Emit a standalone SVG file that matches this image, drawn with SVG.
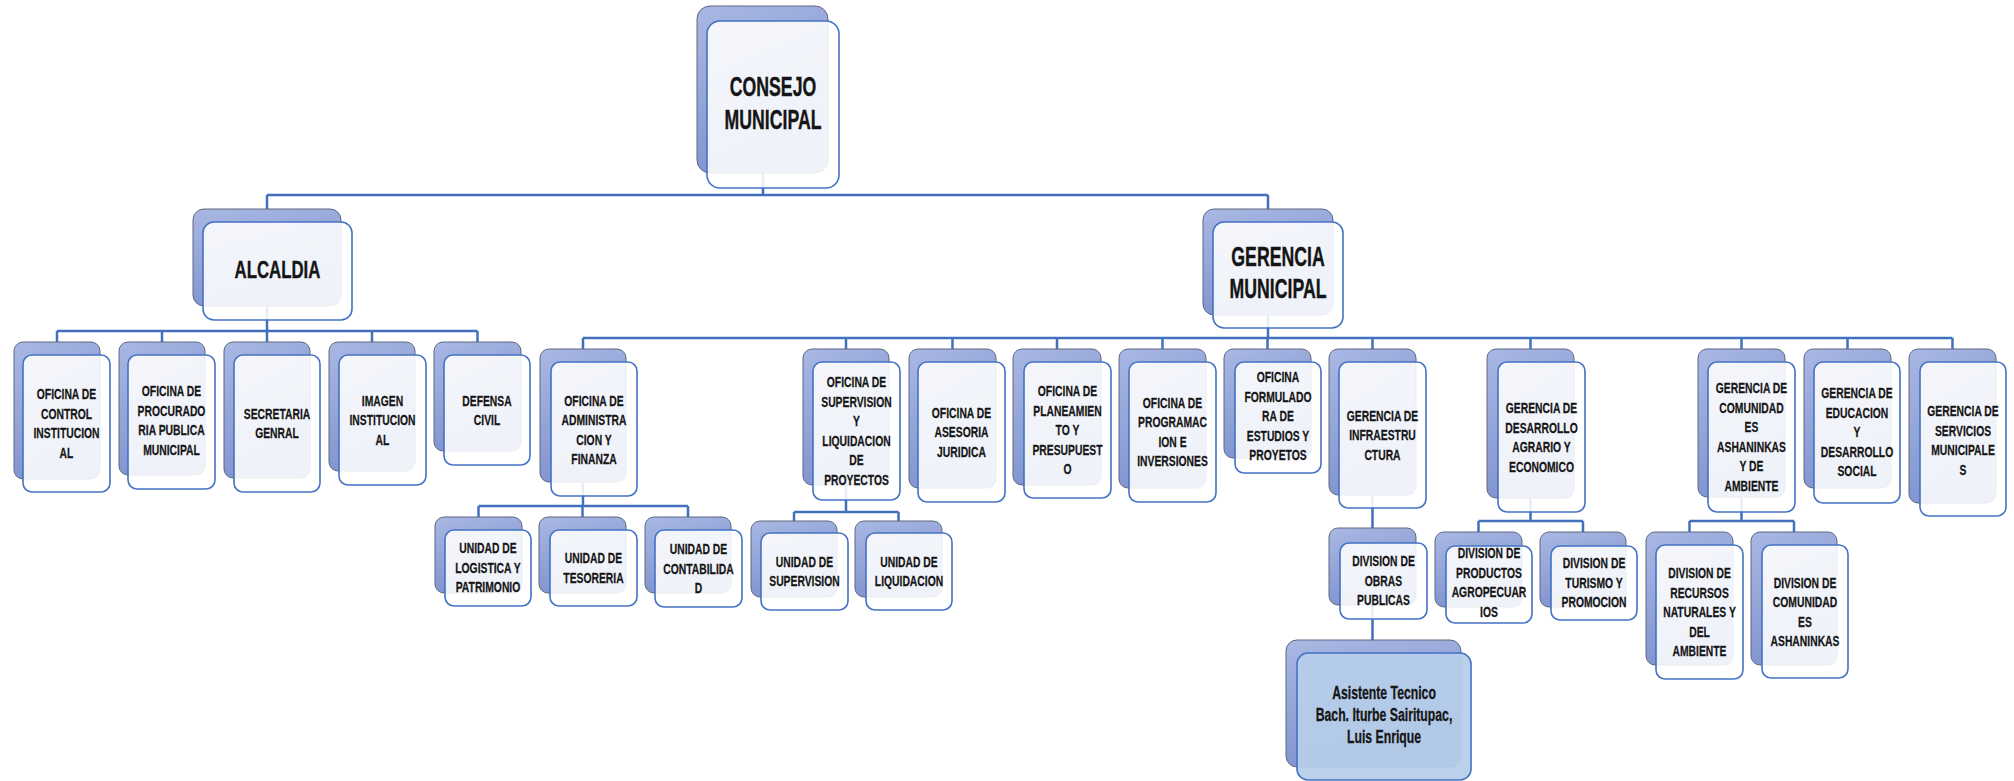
<svg xmlns="http://www.w3.org/2000/svg" width="2014" height="781" viewBox="0 0 2014 781">
<defs>
<linearGradient id="gb" x1="0" y1="0" x2="0.35" y2="1">
<stop offset="0" stop-color="#A9B8E3"/>
<stop offset="1" stop-color="#7F92CD"/>
</linearGradient>
<style>
.b{fill:url(#gb);stroke:#5E6780;stroke-width:1}
.f{fill:#FFFFFF;fill-opacity:0.88;stroke:#4472C4;stroke-width:1.6}
.fa{fill:#B6CEEA;fill-opacity:0.93;stroke:#4472C4;stroke-width:1.6}
.t{font-family:"Liberation Sans",Arial,sans-serif;font-weight:bold;font-size:15px;fill:#151515;stroke:#151515;stroke-width:0.25;text-anchor:middle}
.tl{font-size:27px;stroke-width:0.4}
.tm{font-size:24px;stroke-width:0.4}
.ts{font-size:18px;stroke-width:0.3}
.c{fill:none;stroke:#4270BD;stroke-width:2.5}
</style>
</defs>
<rect width="2014" height="781" fill="#FFFFFF"/>
<g id="connectors">
<path class="c" d="M763,170V195M267,195H1268M267,195V212M1268,195V212"/>
<path class="c" d="M267,300V331M57,331H477.5M57,331V345M162,331V345M267,331V345M372,331V345M477.5,331V345"/>
<path class="c" d="M1268,310V338M583,338H1952.5M583,338V352M846,338V352M952.5,338V352M1057,338V352M1162.5,338V352M1267.5,338V352M1372.5,338V352M1530.5,338V352M1741.5,338V352M1847.5,338V352M1952.5,338V352"/>
<path class="c" d="M583,478V506M478.5,506H688M478.5,506V520M582.5,506V520M688,506V520"/>
<path class="c" d="M846,480V512M794,512H898.5M794,512V524M898.5,512V524"/>
<path class="c" d="M1372.5,490V531M1372.5,600V643"/>
<path class="c" d="M1530.5,493V521M1478.5,521H1583M1478.5,521V535M1583,521V535"/>
<path class="c" d="M1741.5,492V521M1689.5,521H1794M1689.5,521V535M1794,521V535"/>
</g>
<g id="consejo">
<rect class="b" x="697" y="6" width="131" height="167" rx="13"/>
<rect class="f" x="707" y="21" width="132" height="167" rx="13"/>
<text class="t tl" transform="translate(773,0) scale(0.655,1)"><tspan x="0" y="96">CONSEJO</tspan><tspan x="0" y="129">MUNICIPAL</tspan></text>
</g>
<g id="alcaldia">
<rect class="b" x="193" y="209" width="148" height="97" rx="11"/>
<rect class="f" x="203" y="222" width="149" height="98" rx="11"/>
<text class="t tm" transform="translate(277.5,0) scale(0.70,1)"><tspan x="0" y="278">ALCALDIA</tspan></text>
</g>
<g id="gerencia-municipal">
<rect class="b" x="1203" y="209" width="130" height="106" rx="11"/>
<rect class="f" x="1213" y="222" width="130" height="106" rx="11"/>
<text class="t tl" transform="translate(1278,0) scale(0.655,1)"><tspan x="0" y="266">GERENCIA</tspan><tspan x="0" y="298">MUNICIPAL</tspan></text>
</g>
<g id="control-institucional">
<rect class="b" x="14" y="342" width="86" height="137" rx="9"/>
<rect class="f" x="23" y="355" width="87" height="137" rx="9"/>
<text class="t" transform="translate(66.5,0) scale(0.69,1)"><tspan x="0" y="399.5">OFICINA DE</tspan><tspan x="0" y="419">CONTROL</tspan><tspan x="0" y="438.5">INSTITUCION</tspan><tspan x="0" y="458">AL</tspan></text>
</g>
<g id="procuraduria">
<rect class="b" x="119" y="342" width="86" height="133" rx="9"/>
<rect class="f" x="128" y="355" width="87" height="134" rx="9"/>
<text class="t" transform="translate(171.5,0) scale(0.69,1)"><tspan x="0" y="396.5">OFICINA DE</tspan><tspan x="0" y="416">PROCURADO</tspan><tspan x="0" y="435.5">RIA PUBLICA</tspan><tspan x="0" y="455">MUNICIPAL</tspan></text>
</g>
<g id="secretaria">
<rect class="b" x="224" y="342" width="86" height="136" rx="9"/>
<rect class="f" x="234" y="355" width="86" height="137" rx="9"/>
<text class="t" transform="translate(277,0) scale(0.69,1)"><tspan x="0" y="419">SECRETARIA</tspan><tspan x="0" y="438.5">GENRAL</tspan></text>
</g>
<g id="imagen">
<rect class="b" x="329" y="342" width="86" height="129" rx="9"/>
<rect class="f" x="339" y="355" width="87" height="130" rx="9"/>
<text class="t" transform="translate(382.5,0) scale(0.69,1)"><tspan x="0" y="406">IMAGEN</tspan><tspan x="0" y="425.5">INSTITUCION</tspan><tspan x="0" y="445">AL</tspan></text>
</g>
<g id="defensa">
<rect class="b" x="434" y="342" width="87" height="109" rx="9"/>
<rect class="f" x="444" y="355" width="86" height="110" rx="9"/>
<text class="t" transform="translate(487,0) scale(0.69,1)"><tspan x="0" y="406">DEFENSA</tspan><tspan x="0" y="425.5">CIVIL</tspan></text>
</g>
<g id="administracion">
<rect class="b" x="540" y="349" width="86" height="133" rx="9"/>
<rect class="f" x="551" y="362" width="86" height="134" rx="9"/>
<text class="t" transform="translate(594,0) scale(0.69,1)"><tspan x="0" y="406">OFICINA DE</tspan><tspan x="0" y="425.5">ADMINISTRA</tspan><tspan x="0" y="445">CION Y</tspan><tspan x="0" y="464.5">FINANZA</tspan></text>
</g>
<g id="supervision-liquidacion">
<rect class="b" x="803" y="349" width="86" height="136" rx="9"/>
<rect class="f" x="813" y="362" width="87" height="138" rx="9"/>
<text class="t" transform="translate(856.5,0) scale(0.69,1)"><tspan x="0" y="387.5">OFICINA DE</tspan><tspan x="0" y="407">SUPERVISION</tspan><tspan x="0" y="426.5">Y</tspan><tspan x="0" y="446">LIQUIDACION</tspan><tspan x="0" y="465.5">DE</tspan><tspan x="0" y="485">PROYECTOS</tspan></text>
</g>
<g id="asesoria">
<rect class="b" x="909" y="349" width="87" height="139" rx="9"/>
<rect class="f" x="918" y="362" width="87" height="140" rx="9"/>
<text class="t" transform="translate(961.5,0) scale(0.69,1)"><tspan x="0" y="418">OFICINA DE</tspan><tspan x="0" y="437.5">ASESORIA</tspan><tspan x="0" y="457">JURIDICA</tspan></text>
</g>
<g id="planeamiento">
<rect class="b" x="1013" y="349" width="88" height="136" rx="9"/>
<rect class="f" x="1024" y="362" width="87" height="136" rx="9"/>
<text class="t" transform="translate(1067.5,0) scale(0.69,1)"><tspan x="0" y="396.5">OFICINA DE</tspan><tspan x="0" y="416">PLANEAMIEN</tspan><tspan x="0" y="435.5">TO Y</tspan><tspan x="0" y="455">PRESUPUEST</tspan><tspan x="0" y="474.5">O</tspan></text>
</g>
<g id="programacion">
<rect class="b" x="1119" y="349" width="87" height="139" rx="9"/>
<rect class="f" x="1129" y="362" width="87" height="140" rx="9"/>
<text class="t" transform="translate(1172.5,0) scale(0.69,1)"><tspan x="0" y="408">OFICINA DE</tspan><tspan x="0" y="427.5">PROGRAMAC</tspan><tspan x="0" y="447">ION E</tspan><tspan x="0" y="466.5">INVERSIONES</tspan></text>
</g>
<g id="formuladora">
<rect class="b" x="1224" y="349" width="87" height="109" rx="9"/>
<rect class="f" x="1235" y="362" width="86" height="111" rx="9"/>
<text class="t" transform="translate(1278,0) scale(0.69,1)"><tspan x="0" y="382.5">OFICINA</tspan><tspan x="0" y="402">FORMULADO</tspan><tspan x="0" y="421.5">RA DE</tspan><tspan x="0" y="441">ESTUDIOS Y</tspan><tspan x="0" y="460.5">PROYETOS</tspan></text>
</g>
<g id="infraestructura">
<rect class="b" x="1329" y="349" width="87" height="146" rx="9"/>
<rect class="f" x="1339" y="362" width="87" height="146" rx="9"/>
<text class="t" transform="translate(1382.5,0) scale(0.69,1)"><tspan x="0" y="421">GERENCIA DE</tspan><tspan x="0" y="440.5">INFRAESTRU</tspan><tspan x="0" y="460">CTURA</tspan></text>
</g>
<g id="desarrollo-agrario">
<rect class="b" x="1487" y="349" width="87" height="149" rx="9"/>
<rect class="f" x="1498" y="362" width="87" height="150" rx="9"/>
<text class="t" transform="translate(1541.5,0) scale(0.69,1)"><tspan x="0" y="413.5">GERENCIA DE</tspan><tspan x="0" y="433">DESARROLLO</tspan><tspan x="0" y="452.5">AGRARIO Y</tspan><tspan x="0" y="472">ECONOMICO</tspan></text>
</g>
<g id="comunidades-ambiente">
<rect class="b" x="1698" y="349" width="87" height="148" rx="9"/>
<rect class="f" x="1708" y="362" width="87" height="150" rx="9"/>
<text class="t" transform="translate(1751.5,0) scale(0.69,1)"><tspan x="0" y="393.5">GERENCIA DE</tspan><tspan x="0" y="413">COMUNIDAD</tspan><tspan x="0" y="432.5">ES</tspan><tspan x="0" y="452">ASHANINKAS</tspan><tspan x="0" y="471.5">Y DE</tspan><tspan x="0" y="491">AMBIENTE</tspan></text>
</g>
<g id="educacion">
<rect class="b" x="1804" y="349" width="87" height="139" rx="9"/>
<rect class="f" x="1814" y="362" width="86" height="141" rx="9"/>
<text class="t" transform="translate(1857,0) scale(0.69,1)"><tspan x="0" y="398.5">GERENCIA DE</tspan><tspan x="0" y="418">EDUCACION</tspan><tspan x="0" y="437.5">Y</tspan><tspan x="0" y="457">DESARROLLO</tspan><tspan x="0" y="476.5">SOCIAL</tspan></text>
</g>
<g id="servicios">
<rect class="b" x="1909" y="349" width="87" height="154" rx="9"/>
<rect class="f" x="1920" y="362" width="86" height="154" rx="9"/>
<text class="t" transform="translate(1963,0) scale(0.69,1)"><tspan x="0" y="416.5">GERENCIA DE</tspan><tspan x="0" y="436">SERVICIOS</tspan><tspan x="0" y="455.5">MUNICIPALE</tspan><tspan x="0" y="475">S</tspan></text>
</g>
<g id="logistica">
<rect class="b" x="435" y="517" width="87" height="76" rx="9"/>
<rect class="f" x="445" y="530" width="86" height="76" rx="9"/>
<text class="t" transform="translate(488,0) scale(0.69,1)"><tspan x="0" y="553.5">UNIDAD DE</tspan><tspan x="0" y="573">LOGISTICA Y</tspan><tspan x="0" y="592.5">PATRIMONIO</tspan></text>
</g>
<g id="tesoreria">
<rect class="b" x="539" y="517" width="87" height="76" rx="9"/>
<rect class="f" x="550" y="530" width="87" height="76" rx="9"/>
<text class="t" transform="translate(593.5,0) scale(0.69,1)"><tspan x="0" y="563.5">UNIDAD DE</tspan><tspan x="0" y="583">TESORERIA</tspan></text>
</g>
<g id="contabilidad">
<rect class="b" x="645" y="517" width="86" height="76" rx="9"/>
<rect class="f" x="655" y="530" width="87" height="77" rx="9"/>
<text class="t" transform="translate(698.5,0) scale(0.69,1)"><tspan x="0" y="554.5">UNIDAD DE</tspan><tspan x="0" y="574">CONTABILIDA</tspan><tspan x="0" y="593.5">D</tspan></text>
</g>
<g id="unidad-supervision">
<rect class="b" x="751" y="521" width="86" height="76" rx="9"/>
<rect class="f" x="761" y="533" width="87" height="77" rx="9"/>
<text class="t" transform="translate(804.5,0) scale(0.69,1)"><tspan x="0" y="567">UNIDAD DE</tspan><tspan x="0" y="586.5">SUPERVISION</tspan></text>
</g>
<g id="unidad-liquidacion">
<rect class="b" x="855" y="521" width="87" height="76" rx="9"/>
<rect class="f" x="866" y="533" width="86" height="77" rx="9"/>
<text class="t" transform="translate(909,0) scale(0.69,1)"><tspan x="0" y="567">UNIDAD DE</tspan><tspan x="0" y="586.5">LIQUIDACION</tspan></text>
</g>
<g id="obras-publicas">
<rect class="b" x="1329" y="528" width="87" height="77" rx="9"/>
<rect class="f" x="1340" y="543" width="87" height="76" rx="9"/>
<text class="t" transform="translate(1383.5,0) scale(0.69,1)"><tspan x="0" y="566.5">DIVISION DE</tspan><tspan x="0" y="586">OBRAS</tspan><tspan x="0" y="605.5">PUBLICAS</tspan></text>
</g>
<g id="productos-agropecuarios">
<rect class="b" x="1435" y="532" width="87" height="75" rx="9"/>
<rect class="f" x="1446" y="546" width="86" height="77" rx="9"/>
<text class="t" transform="translate(1489,0) scale(0.69,1)"><tspan x="0" y="558.5">DIVISION DE</tspan><tspan x="0" y="578">PRODUCTOS</tspan><tspan x="0" y="597.5">AGROPECUAR</tspan><tspan x="0" y="617">IOS</tspan></text>
</g>
<g id="turismo">
<rect class="b" x="1540" y="532" width="86" height="75" rx="9"/>
<rect class="f" x="1551" y="546" width="86" height="74" rx="9"/>
<text class="t" transform="translate(1594,0) scale(0.69,1)"><tspan x="0" y="568.5">DIVISION DE</tspan><tspan x="0" y="588">TURISMO Y</tspan><tspan x="0" y="607.5">PROMOCION</tspan></text>
</g>
<g id="recursos-naturales">
<rect class="b" x="1646" y="532" width="87" height="133" rx="9"/>
<rect class="f" x="1656" y="545" width="87" height="134" rx="9"/>
<text class="t" transform="translate(1699.5,0) scale(0.69,1)"><tspan x="0" y="578.5">DIVISION DE</tspan><tspan x="0" y="598">RECURSOS</tspan><tspan x="0" y="617.5">NATURALES Y</tspan><tspan x="0" y="637">DEL</tspan><tspan x="0" y="656.5">AMBIENTE</tspan></text>
</g>
<g id="division-comunidades">
<rect class="b" x="1751" y="532" width="86" height="133" rx="9"/>
<rect class="f" x="1762" y="545" width="86" height="133" rx="9"/>
<text class="t" transform="translate(1805,0) scale(0.69,1)"><tspan x="0" y="588">DIVISION DE</tspan><tspan x="0" y="607.5">COMUNIDAD</tspan><tspan x="0" y="627">ES</tspan><tspan x="0" y="646.5">ASHANINKAS</tspan></text>
</g>
<g id="asistente-tecnico">
<rect class="b" x="1286" y="640" width="175" height="127" rx="11"/>
<rect class="fa" x="1297" y="653" width="174" height="127" rx="11"/>
<text class="t ts" transform="translate(1384,0) scale(0.68,1)"><tspan x="0" y="699.5">Asistente Tecnico</tspan><tspan x="0" y="721.5">Bach. Iturbe Sairitupac,</tspan><tspan x="0" y="743.5">Luis Enrique</tspan></text>
</g>
</svg>
